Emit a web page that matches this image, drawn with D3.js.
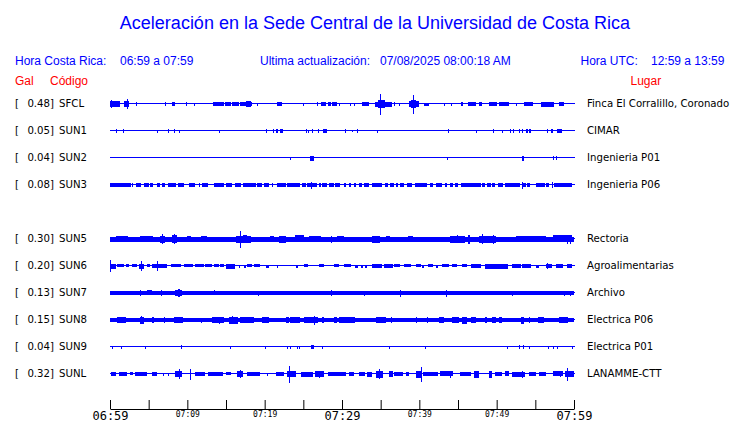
<!DOCTYPE html>
<html>
<head>
<meta charset="utf-8">
<script src="https://cdn.jsdelivr.net/npm/d3@7.9.0/dist/d3.min.js"></script>
<style>
  body { margin: 0; background: #fff; }
  svg { display: block; }
  .hdr { font-family: "Liberation Sans", Arial, sans-serif; }
  .lbl { font-family: "DejaVu Sans Condensed", "DejaVu Sans", sans-serif; font-stretch: condensed; font-size: 11.3px; fill: #000; }
  .axis text { font-family: "DejaVu Sans Mono", monospace; fill: #000; }
</style>
</head>
<body>
<svg id="chart" width="740" height="423"></svg>
<script>
// stations, in display order (SUN4 is off, its row stays empty)
const rowOrder = ['SFCL', 'SUN1', 'SUN2', 'SUN3', 'SUN4', 'SUN5', 'SUN6', 'SUN7', 'SUN8', 'SUN9', 'SUNL'];
const codes = ['SFCL', 'SUN1', 'SUN2', 'SUN3', 'SUN5', 'SUN6', 'SUN7', 'SUN8', 'SUN9', 'SUNL'];
const peakGal = [0.48, 0.05, 0.04, 0.08, 0.30, 0.20, 0.13, 0.15, 0.04, 0.32];
const places = ['Finca El Corralillo, Coronado', 'CIMAR', 'Ingenieria P01', 'Ingenieria P06', 'Rectoria',
  'Agroalimentarias', 'Archivo', 'Electrica P06', 'Electrica P01', 'LANAMME-CTT'];

// trace activity: [start min, end min, relative amplitude]
// (start == end is a single spike)
const sfcl = [[0,1.3,2.7],[0.2,0.2,3.5],[1.9,2.6,2.5],[2.2,2.2,4.5],[3.4,3.4,1.3],[7.2,7.2,1.3],[8.1,8.5,1.5],
  [9.9,9.9,1.3],[10.9,10.9,0.8],[13.4,14.8,1.5],[14.9,15.7,1.3],[15.8,16.7,1.5],[16.9,18.4,1.5],[17.8,18.3,2.5],
  [17.6,17.6,2.5],[19.1,19.1,1],[21.7,22.4,1.5],[25,25,0.8],[26.8,26.8,1.3],[27.3,27.9,1.5],[28.3,28.7,1.3],
  [28.8,29.4,1.5],[29.7,29.7,1],[31.1,31.1,0.8],[31.6,31.6,0.8],[32.7,33.6,1.3],[34.3,36.5,2],[34.7,35.6,3.3],
  [35,35,10],[36.8,36.8,1.3],[37.4,37.4,1],[38.7,40,2.3],[39,39.7,3.3],[39.3,39.3,9],[40.7,41.4,1],[43.3,43.3,0.8],
  [44.2,44.2,0.8],[45.5,45.7,1.3],[46.4,47.4,1.5],[47.8,48.2,1.3],[49.1,50.1,1.5],[50.4,51.7,1.5],[52.5,52.5,1],
  [53.6,54.8,1.5],[55.8,57.5,1.8],[58.1,58.8,1.5]];
const sun1 = [[0.8,0.8,1.3],[1.8,1.9,1.3],[6.2,6.2,0.8],[7.6,7.6,1.3],[8.4,8.4,1.3],[9,9,0.8],[14.1,14.1,0.8],
  [20.3,20.3,1.3],[21.1,21.2,1.3],[21.5,21.7,1.3],[22,22.4,1.5],[25.4,25.4,1.3],[25.7,25.7,1],[26.2,26.2,1.3],
  [27,27,1.3],[27.6,28.1,1.5],[30.5,30.5,1.3],[31.3,31.3,0.5],[32,32,1.3],[34.6,34.6,0.8],[43.8,43.8,1.3],
  [47.4,47.4,0.8],[49.6,49.6,1.3],[50.7,50.7,0.8],[51.8,51.9,1.3],[52.2,52.3,1.3],[53,53,1.3],[53.4,53.4,1.3],
  [53.9,54.1,1.3],[54.3,54.5,1.3],[56.6,56.7,1.3],[57.1,57.3,1.3],[57.9,58.5,1.5]];
const sun2 = [[23.3,23.3,0.8],[25.9,26.4,1.8],[43.6,43.6,0.8],[53.3,53.6,1.8],[57.3,57.3,1.3],[57.8,57.8,1.3]];
const sun3 = [[0,2.7,1.7],[2.9,3,1.3],[3.4,4,1.7],[4.4,5.1,1.7],[5.3,5.7,1.7],[6.1,6.5,1.7],[6.8,7.2,1.7],
  [7.5,8.5,1.7],[8.8,9.6,1.7],[10.3,11.1,1.7],[11.6,11.6,1.3],[12,12.8,1.7],[13.5,14.8,1.7],[15.1,15.9,1.7],
  [16.2,17,1.7],[17.2,18.9,1.7],[19.1,19.7,1.7],[20,20.6,1.7],[21,21,1.3],[21.7,22.8,1.7],[23,24.7,1.7],
  [24.9,25.4,1.7],[25.6,26.9,1.7],[26.1,26.1,3],[27.1,27.3,1.7],[27.5,28.2,1.7],[28.4,29,1.7],[29.2,29.9,1.7],
  [30.3,30.5,1.7],[31,31.2,1.7],[31.6,31.8,1.7],[32.2,32.6,1.7],[32.9,33.5,1.7],[34,35.3,1.7],[35.6,36,1.7],
  [36.3,36.8,1.7],[37,37.3,1.7],[37.6,38.1,1.7],[38.5,39.1,1.7],[39.5,41.1,1.7],[41.4,41.8,1.7],[42.2,43,1.7],
  [43.4,43.7,1.7],[44,44.4,1.7],[44.7,45.1,1.7],[45.4,48,1.7],[48.2,48.6,1.7],[48.8,49.3,1.7],[49.5,49.9,1.7],
  [50.2,50.8,1.7],[51.2,53.2,1.7],[53.3,53.8,1.7],[53.4,53.4,3],[54,54.4,1.7],[55.1,56.2,1.7],[56.4,56.8,1.7],
  [57.2,57.2,2.5],[57.5,59.8,1.7]];
const sun5 = [[0,60,1.8],[0.8,2.3,2.5],[4,5.7,2.5],[6.5,7.1,3],[6.8,6.8,4.5],[8.1,8.7,3.3],[8.4,8.4,4.5],
  [10,10.5,2.5],[11.8,12.6,2.7],[16.3,18.2,2.8],[16.9,16.9,8],[17.3,17.8,3.5],[20.8,21.3,2.5],[21.9,22.8,2.8],
  [24,25.1,3.2],[25.8,27.4,2.5],[28.6,28.6,3],[29.4,30.3,2.5],[34,35,2.8],[35.7,36.2,2.5],[38.6,39.2,2.5],
  [44,46,2.8],[44.9,44.9,3.5],[46.3,46.6,4],[47.8,50,3],[48.2,48.2,4.5],[49.6,49.6,4],[52.5,56.4,2.7],
  [57.3,59.8,3.2],[59.2,59.2,4],[59.6,59.6,3.8]];
const sun6 = [[0,0.8,2],[0.1,0.1,5.5],[1,1.9,1.2],[2.1,2.5,1.2],[2.9,3.6,1.2],[3.8,4.4,1.8],[4.1,4.1,4.5],
  [4.9,5.3,1.2],[5.5,7.5,1.3],[6.2,6.2,4.5],[7.9,9.2,1.2],[9.6,10.7,1.2],[11.1,12.2,1.2],[12.4,13.3,1.2],
  [13.5,14.1,1.2],[14.3,14.8,1.2],[15,16.1,1.8],[16.7,16.7,1],[17.4,17.6,1],[17.8,18.4,1.2],[18.7,19.5,1.2],
  [20.2,20.6,1],[21.7,21.7,1],[24.1,24.3,1],[25.1,25.6,1.2],[27.1,27.7,1.2],[29,29.7,1.2],[30.3,31.2,1.2],
  [31.8,32.2,1],[32.5,32.7,1],[33.1,33.3,1],[34,35.3,1.3],[35.5,36.6,1.5],[36.8,37.6,1.2],[38.1,39,1.2],
  [39.6,40.2,1.2],[40.4,40.6,1],[41.2,41.8,1.2],[42.2,42.4,1],[43,43.9,1.2],[44.3,44.9,1.2],[45.6,46.2,1.2],
  [46.7,48,1.3],[48.6,51.6,1.8],[52.1,53.2,1.3],[53.4,54.5,1.3],[55.1,55.5,1],[56.4,57.2,1.3],[56.6,56.6,2.5],
  [57.8,58.7,1.3],[59.2,59.8,1.3]];
const sun7 = [[0,60,1.7],[3.9,3.9,2.5],[4.9,5.5,2.2],[6.6,6.6,2.5],[8.5,9.4,2.5],[8.9,9.1,3.3],[13.5,13.5,2.2],
  [19.2,19.2,2],[28.6,28.6,2.3],[32.9,32.9,2],[37.6,37.6,3],[43.5,43.5,3],[52,52,2],[58.8,58.8,2],[59.6,59.6,2]];
const sun8 = [[0,60,1.7],[1,2.1,2.3],[3.9,4.4,2.8],[4.1,4.1,3.5],[5.5,5.7,2.3],[7,7,2.3],[8.3,9.4,2.5],
  [11.8,11.8,2],[13.3,14.8,2.3],[14.1,14.1,3],[15.4,16.5,2.8],[15.8,15.8,3.3],[16.9,18.7,2.7],[19.7,20.6,2.7],
  [22.8,23.2,2.3],[23.4,24.7,2.5],[25.1,26.9,2.7],[26.4,26.4,4],[27.5,27.7,2.3],[29,29.4,2.3],[29.7,31.8,2.7],
  [34.4,35.7,2.7],[36.4,36.4,2.3],[39.6,39.6,2.3],[41,41,2.3],[42.6,43.2,2.3],[44.3,45.2,2.5],[45.6,46.2,3],
  [46.8,47.4,2.5],[48.5,48.8,2.3],[49.4,49.9,2.3],[50.4,50.8,2.3],[53.2,53.6,3],[54.2,54.2,2.3],[55.4,56.2,2.3],
  [58.1,59.3,2.5]];
const sun9 = [[0.3,0.3,1],[1.5,1.5,1],[4.6,4.6,0.8],[9.2,9.2,1.3],[15.6,15.6,0.8],[20.1,20.1,1],[23,23,0.8],
  [23.4,23.4,0.8],[24.2,24.2,1],[24.5,24.5,1],[26,26.4,1.3],[27.5,27.5,1],[36.2,36.2,1],[40.8,40.8,0.8],
  [51.4,51.4,0.8],[53,53,1.3],[53.5,53.5,1.3],[54.2,54.2,1],[56.7,56.7,1],[57.4,57.4,1],[57.9,57.9,1],[59.8,59.8,1]];
const sunl = [[0.2,0.8,1.5],[1.2,2.2,1.5],[2.7,3.1,1.2],[3.3,4.9,1.5],[5.5,6.1,1.5],[6.9,6.9,1],[7.5,7.5,1],
  [8.5,9.4,2.3],[9,9,4.3],[10.4,10.4,5],[11.1,12.4,1.5],[12.8,14.8,1.5],[15,15.7,1.2],[16.5,17.3,2.3],
  [16.9,16.9,3.3],[17.8,19.5,1.5],[20.4,20.4,1],[21.5,22.5,1.3],[22.9,24.1,2.3],[23.2,23.2,8],[24.7,26.2,1.8],
  [26.6,27.7,2.3],[27.1,27.1,3],[28.2,30.5,1.5],[31,31.6,1.3],[32.3,33.1,1.5],[33.3,34,2],[34.4,35.3,2.8],
  [34.8,34.8,4.5],[36.1,36.6,2.5],[36.8,37.9,1.3],[38.3,38.7,1.3],[39.6,40.4,2.8],[40.3,40.3,7],[40.6,42.6,1.5],
  [42.8,44.5,2.2],[44,44,3],[45.3,46.7,1.5],[47.1,47.8,3],[49.1,49.5,3],[49.9,50.8,1.5],[51.2,51.7,2.2],
  [52.1,53.8,2],[53.3,53.3,3],[54.2,55.1,1.5],[55.5,56.4,1.5],[57.3,58.6,2.2],[58.3,58.3,2.7],[58.9,60,2.5],
  [59.2,59.2,6]];
const traces = [sfcl, sun1, sun2, sun3, sun5, sun6, sun7, sun8, sun9, sunl];

const lastUpdate = '07/08/2025 08:00:18 AM';
const t0 = new Date(2025, 6, 8, 6, 59);
const t1 = d3.timeHour.offset(t0, 1);
const utcShift = 6;

const svg = d3.select('#chart');
const blue = '#0000ff';
const red = '#ff0000';

const x = d3.scaleTime().domain([t0, t1]).range([110, 574]);
const y = d3.scalePoint().domain(rowOrder).range([103, 373]);
const amp = d3.scaleLinear().domain([0, 10]).range([0, 10]);
const xm = (m) => x(d3.timeSecond.offset(t0, Math.round(m * 60)));
const hm = d3.timeFormat('%H:%M');

// header
svg.append('text').attr('class', 'hdr').attr('x', 375).attr('y', 29)
  .attr('text-anchor', 'middle').attr('font-size', 18).attr('fill', blue)
  .text('Aceleración en la Sede Central de la Universidad de Costa Rica');

const hdr = [
  ['Hora Costa Rica:', 15, 65, blue],
  [`${hm(t0)} a ${hm(t1)}`, 120, 65, blue],
  ['Ultima actualización:', 260, 65, blue],
  [lastUpdate, 380, 65, blue],
  ['Hora UTC:', 580.5, 65, blue],
  [`${hm(d3.timeHour.offset(t0, utcShift))} a ${hm(d3.timeHour.offset(t1, utcShift))}`, 651, 65, blue],
  ['Gal', 15, 85, red],
  ['Código', 50, 85, red],
  ['Lugar', 630.5, 85, red]
];
hdr.forEach(([t, hx, hy, c]) => {
  svg.append('text').attr('class', 'hdr').attr('x', hx).attr('y', hy)
    .attr('font-size', 12).attr('fill', c).text(t);
});

// traces
const rows = svg.append('g');
codes.forEach((code, i) => {
  const cy = y(code);
  const g = rows.append('g').attr('shape-rendering', 'crispEdges');
  g.append('line')
    .attr('x1', xm(0)).attr('x2', xm(60) + 1)
    .attr('y1', cy + 0.5).attr('y2', cy + 0.5)
    .attr('stroke', blue).attr('stroke-width', 1);
  g.selectAll('rect').data(traces[i]).join('rect')
    .attr('x', (d) => Math.floor(xm(d[0])))
    .attr('width', (d) => Math.max(1, Math.round(xm(d[1]) - xm(d[0]))))
    .attr('y', (d) => Math.round(cy + 0.5 - amp(d[2])))
    .attr('height', (d) => Math.max(1, Math.round(2 * amp(d[2])) + 1))
    .attr('fill', blue);

  rows.append('text').attr('class', 'lbl').attr('x', 15).attr('y', cy + 4).text('[');
  rows.append('text').attr('class', 'lbl').attr('x', 54).attr('y', cy + 4)
    .attr('text-anchor', 'end').text(d3.format('.2f')(peakGal[i]) + ']');
  rows.append('text').attr('class', 'lbl').attr('x', 59).attr('y', cy + 4).text(code);
  rows.append('text').attr('class', 'lbl').attr('x', 587).attr('y', cy + 4).text(places[i]);
});

// time axis
const tickMins = d3.range(0, 61, 5);
const axis = d3.axisBottom(x)
  .tickValues(tickMins.map((m) => d3.timeMinute.offset(t0, m)))
  .tickSizeInner(-9).tickSizeOuter(0).tickPadding(2)
  .tickFormat((d, i) => (tickMins[i] % 10 === 0 ? hm(d) : ''));
const ax = svg.append('g').attr('class', 'axis').attr('transform', 'translate(0,409)').call(axis);
ax.selectAll('text').attr('font-size', (d, i) => (tickMins[i] % 30 === 0 ? 12 : 8));
ax.select('.domain').attr('stroke', '#000');
ax.selectAll('.tick line').attr('stroke', '#000');
</script>
</body>
</html>
